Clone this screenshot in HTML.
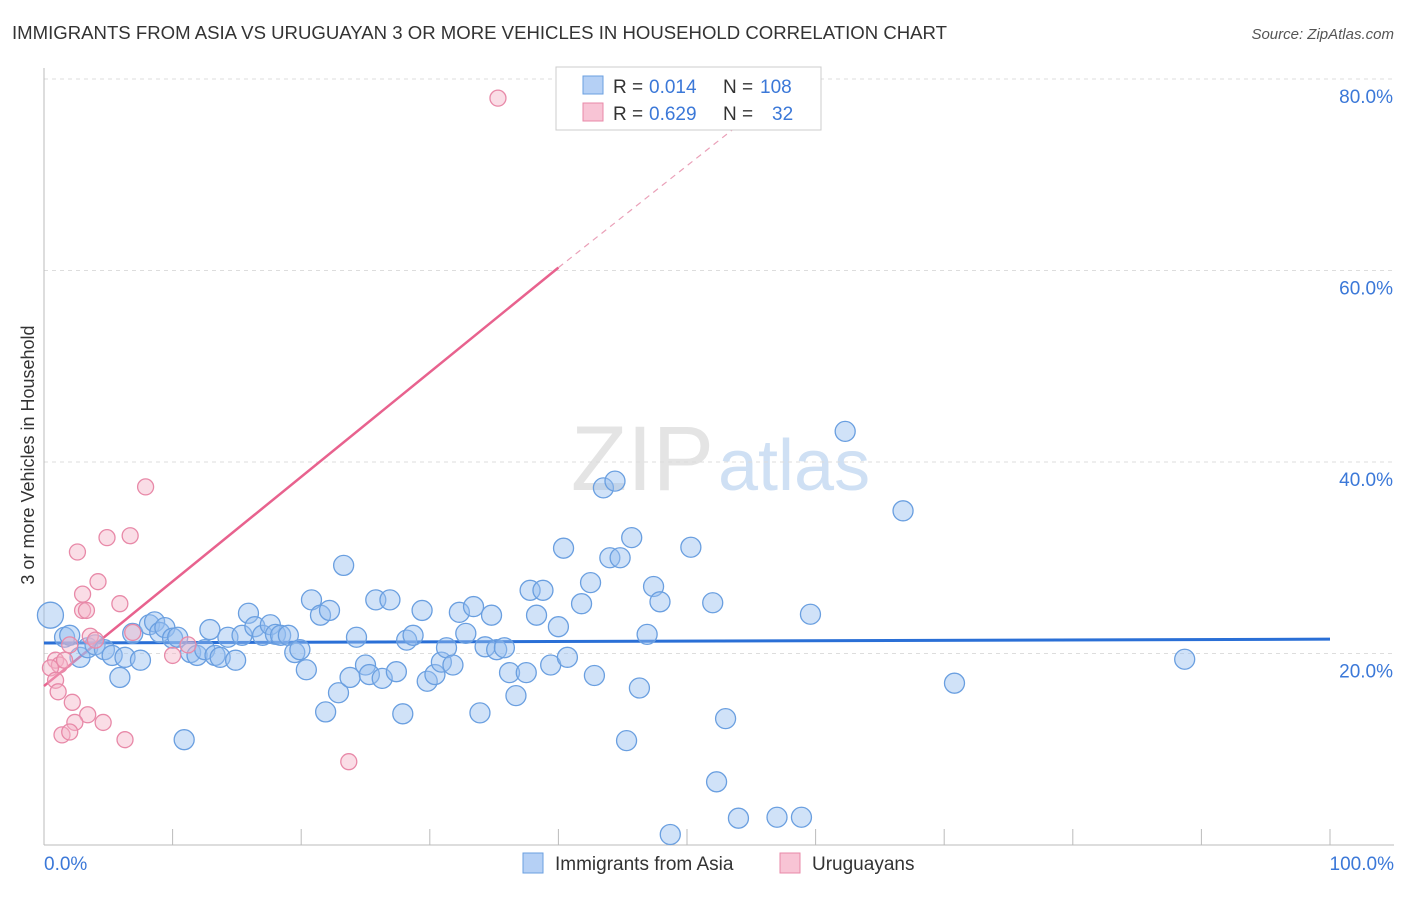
<!DOCTYPE html>
<html><head><meta charset="utf-8"><style>
body{margin:0;background:#fff;font-family:"Liberation Sans",sans-serif}
svg text{font-family:"Liberation Sans",sans-serif}
</style></head><body>
<svg id="chart" width="1406" height="892" viewBox="0 0 1406 892">
<text x="12" y="39" font-size="18" fill="#333" textLength="935" lengthAdjust="spacingAndGlyphs">IMMIGRANTS FROM ASIA VS URUGUAYAN 3 OR MORE VEHICLES IN HOUSEHOLD CORRELATION CHART</text>
<text x="1394" y="39" font-size="15" font-style="italic" fill="#555" text-anchor="end">Source: ZipAtlas.com</text>
<text x="714" y="490" font-size="92" font-family="Liberation Serif" fill="#e4e4e4" text-anchor="end">ZIP</text>
<text x="718" y="490" font-size="72" fill="#cfe0f4">atlas</text>
<text transform="translate(34,455) rotate(-90)" font-size="18" fill="#333" text-anchor="middle">3 or more Vehicles in Household</text>
<g id="grid"></g><g id="axes"></g><g id="lines"></g><g id="pts"></g>
<g>
<rect x="556" y="67" width="265" height="63" fill="#fff" stroke="#ccc"/>
<rect x="583" y="76" width="20" height="18" fill="#b5d0f5" stroke="#6a9fe0"/>
<rect x="583" y="103" width="20" height="18" fill="#f8c4d5" stroke="#e889a8"/>
<text x="613" y="93" font-size="19" fill="#333">R =</text>
<text x="649" y="93" font-size="19" fill="#3b78d8">0.014</text>
<text x="723" y="93" font-size="19" fill="#333">N =</text>
<text x="760" y="93" font-size="19" fill="#3b78d8">108</text>
<text x="613" y="120" font-size="19" fill="#333">R =</text>
<text x="649" y="120" font-size="19" fill="#3b78d8">0.629</text>
<text x="723" y="120" font-size="19" fill="#333">N =</text>
<text x="772" y="120" font-size="19" fill="#3b78d8">32</text>
</g>
<g>
<rect x="523" y="853" width="20" height="20" fill="#b5d0f5" stroke="#6a9fe0"/>
<text x="555" y="870" font-size="19" fill="#333">Immigrants from Asia</text>
<rect x="780" y="853" width="20" height="20" fill="#f8c4d5" stroke="#e889a8"/>
<text x="812" y="870" font-size="19" fill="#333">Uruguayans</text>
</g>
</svg>
<script>
const yTicks=[20,40,60,80];
const xTickVals=[0,10,20,30,40,50,60,70,80,90,100];
const asiaX=[0.5,1.6,2.0,2.8,3.4,3.97,4.7,5.3,5.9,6.3,6.9,7.5,8.2,8.6,9.0,9.4,10.0,10.4,10.9,11.4,11.9,12.5,12.9,13.3,13.7,14.3,14.9,15.4,15.9,16.4,17.0,17.6,18.0,18.4,19.0,19.5,19.9,20.4,20.8,21.5,21.9,22.2,22.9,23.3,23.8,24.3,25.0,25.3,25.8,26.3,26.9,27.4,27.9,28.2,28.7,29.4,29.8,30.4,30.9,31.3,31.8,32.3,32.8,33.4,33.9,34.3,34.8,35.2,35.8,36.2,36.7,37.5,37.8,38.3,38.8,39.4,40.0,40.4,40.7,41.8,42.5,42.8,43.5,44.0,44.4,44.8,45.3,45.7,46.3,46.9,47.4,47.9,48.7,50.3,52.0,52.3,53.0,54.0,57.0,58.9,59.6,62.3,66.8,70.8,88.7];
const asiaY=[24.0,21.7,21.9,19.6,20.6,20.9,20.4,19.8,17.5,19.6,22.1,19.3,23.0,23.3,22.2,22.7,21.6,21.7,11.0,20.1,19.8,20.4,22.5,19.8,19.6,21.7,19.3,21.9,24.2,22.8,21.9,23.0,22.0,21.9,21.9,20.1,20.4,18.3,25.6,24.0,13.9,24.5,15.9,29.2,17.5,21.7,18.8,17.8,25.6,17.4,25.6,18.1,13.7,21.4,21.9,24.5,17.1,17.8,19.1,20.6,18.8,24.3,22.1,24.9,13.8,20.7,24.0,20.4,20.6,18.0,15.6,18.0,26.6,24.0,26.6,18.8,22.8,31.0,19.6,25.2,27.4,17.7,37.3,30.0,38.0,30.0,10.9,32.1,16.4,22.0,27.0,25.4,1.1,31.1,25.3,6.6,13.2,2.8,2.9,2.9,24.1,43.2,34.9,16.9,19.4];
const urugX=[35.3,7.9,2.6,4.9,6.7,4.2,3.0,3.0,3.3,5.9,3.6,4.0,6.9,2.0,0.9,1.2,0.5,1.6,0.9,1.1,2.2,3.4,2.4,4.6,1.4,2.0,6.3,10.0,11.2,23.7];
const urugY=[78.0,37.4,30.6,32.1,32.3,27.5,26.2,24.5,24.5,25.2,21.8,21.4,22.2,20.9,19.3,18.8,18.5,19.3,17.2,16.0,14.9,13.6,12.8,12.8,11.5,11.8,11.0,19.8,20.9,8.7];
const asiaLine=[21.1,21.5];
const urugLine=[16.6,60.3,75.2];
const urugLineX=[0,40,54];

const X=v=>44+v*12.86, Y=v=>845-v*9.575;
const NS='http://www.w3.org/2000/svg';
function mk(tag,attrs,parent){const e=document.createElementNS(NS,tag);for(const k in attrs)e.setAttribute(k,attrs[k]);document.getElementById(parent).appendChild(e);return e;}
yTicks.forEach(t=>{
 const l=mk('line',{x1:44,x2:1394,y1:Y(t),y2:Y(t),stroke:'#ddd','stroke-dasharray':'4,4'},'grid');
 
 
 const tx=mk('text',{x:1393,y:Y(t)+24,'font-size':19,fill:'#3b78d8','text-anchor':'end'},'grid');
 tx.textContent=t.toFixed(1)+'%';
 
 
});
const ax=mk('line',{x1:44,x2:1394,y1:845,y2:845,stroke:'#bbb'},'axes');


const ay=mk('line',{x1:44,x2:44,y1:68,y2:845,stroke:'#bbb'},'axes');


xTickVals.forEach(t=>{
 const l=mk('line',{x1:X(t),x2:X(t),y1:829,y2:845,stroke:'#bbb'},'axes');
 
 
});
[[0,44,'start'],[100,1394,'end']].forEach(([v,x,a])=>{
 const t=mk('text',{x:x,y:870,'font-size':19,fill:'#3b78d8','text-anchor':a},'axes');
 t.textContent=v.toFixed(1)+'%';
 
 
});
asiaX.forEach((x,i)=>{
 const c=mk('circle',{cx:X(x),cy:Y(asiaY[i]),r:i===0?13:10,fill:'rgba(150,190,240,0.45)',stroke:'#6a9fe0','stroke-width':1.3},'pts');
 
 
});
urugX.forEach((x,i)=>{
 const c=mk('circle',{cx:X(x),cy:Y(urugY[i]),r:8,fill:'rgba(245,180,200,0.45)',stroke:'#e889a8','stroke-width':1.3},'pts');
 
 
});
const bl=mk('line',{x1:X(0),x2:X(100),y1:Y(asiaLine[0]),y2:Y(asiaLine[1]),stroke:'#2a6fd6','stroke-width':3},'lines');


const pl=mk('line',{x1:X(urugLineX[0]),x2:X(urugLineX[1]),y1:Y(urugLine[0]),y2:Y(urugLine[1]),stroke:'#e8628e','stroke-width':2.5},'lines');


const pd=mk('line',{x1:X(urugLineX[1]),x2:X(urugLineX[2]),y1:Y(urugLine[1]),y2:Y(urugLine[2]),stroke:'#eaa0b8','stroke-width':1.2,'stroke-dasharray':'6,5'},'lines');


</script>
</body></html>
